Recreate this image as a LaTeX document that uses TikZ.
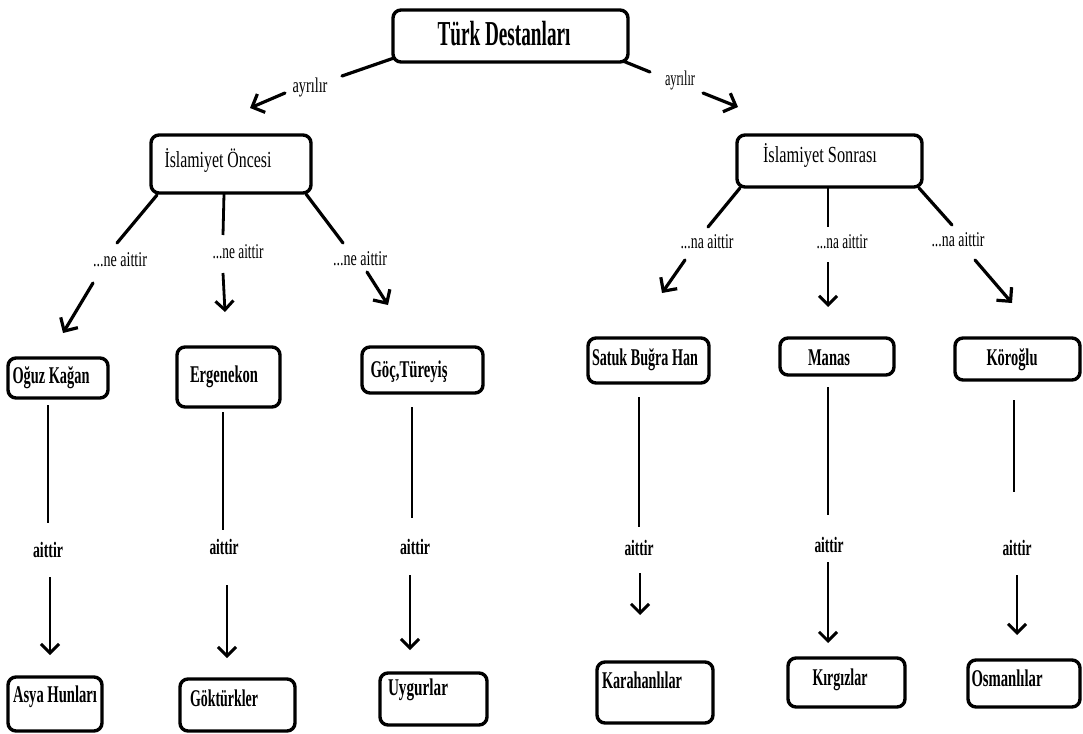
\documentclass[tikz,border=0pt]{standalone}
\usepackage{fontspec}
\setmainfont{Liberation Serif}
\usepackage{graphicx}
\usetikzlibrary{arrows.meta,fit}

% squeeze a text to a given width while keeping its height
\newcommand\fitw[2]{\resizebox{#1pt}{\height}{#2}}

\tikzset{
  boxst/.style={draw=black, line width=3.4pt, rounded corners=8pt, inner sep=0pt},
  ttlst/.style={inner sep=0pt, font=\fontsize{35}{37}\selectfont\bfseries},
  headst/.style={inner sep=0pt, font=\fontsize{23}{25}\selectfont},
  itemst/.style={inner sep=0pt, font=\fontsize{24}{26}\selectfont\bfseries},
  relst/.style={inner sep=0pt, font=\fontsize{21}{23}\selectfont},
  relbst/.style={inner sep=0pt, font=\fontsize{22}{24}\selectfont\bfseries},
  linkst/.style={line width=3.2pt, line cap=round},
  arrst/.style={linkst, -{Straight Barb[length=10pt,width=20pt,line width=3.2pt]}},
  vlinkst/.style={line width=2.8pt},
  varrst/.style={vlinkst, -{Straight Barb[length=9pt,width=18pt,line width=3pt]}}
}

\begin{document}
\begin{tikzpicture}[x=1pt,y=-1pt]
\useasboundingbox[fill=white] (0,0) rectangle (1083,733);

% ---- boxes ----
\node[boxst, fit={(393,10)(628,62)}] (top) {};
\node[ttlst] (tTop) at (504,34) {\fitw{133}{Türk Destanları}};

\node[boxst, fit={(151,135)(311,193)}] (io) {};
\node[headst] (tIo) at (218,160) {\fitw{107}{İslamiyet Öncesi}};

\node[boxst, fit={(737,135)(922,187)}] (is) {};
\node[headst] (tIs) at (820,155) {\fitw{114}{İslamiyet Sonrası}};

\node[boxst, fit={(8,358)(108,398)}] (oguz) {};
\node[itemst] (tOguz) at (51,378) {\fitw{77}{Oğuz Kağan}};
\node[boxst, fit={(177,347)(280,407)}] (erg) {};
\node[itemst] (tErg) at (224,377) {\fitw{68}{Ergenekon}};
\node[boxst, fit={(362,347)(483,393)}] (goc) {};
\node[itemst] (tGoc) at (409,372) {\fitw{77}{Göç,Türeyiş}};

\node[boxst, fit={(588,338)(709,383)}] (satuk) {};
\node[itemst] (tSatuk) at (645,360) {\fitw{106}{Satuk Buğra Han}};
\node[boxst, fit={(780,338)(894,375)}] (manas) {};
\node[itemst] (tManas) at (829,358) {\fitw{42}{Manas}};
\node[boxst, fit={(955,338)(1080,380)}] (koro) {};
\node[itemst] (tKoro) at (1012,360) {\fitw{51}{Köroğlu}};

\node[boxst, fit={(8,677)(102,731)}] (asya) {};
\node[itemst] (tAsya) at (55,697) {\fitw{84}{Asya Hunları}};
\node[boxst, fit={(180,679)(295,731)}] (gok) {};
\node[itemst] (tGok) at (224,698) {\fitw{68}{Göktürkler}};
\node[boxst, fit={(380,673)(487,725)}] (uyg) {};
\node[itemst] (tUyg) at (418,690) {\fitw{60}{Uygurlar}};

\node[boxst, fit={(597,662)(713,723)}] (kara) {};
\node[itemst] (tKara) at (642,680) {\fitw{80}{Karahanlılar}};
\node[boxst, fit={(788,658)(905,707)}] (kirg) {};
\node[itemst] (tKirg) at (840,680) {\fitw{55}{Kırgızlar}};
\node[boxst, fit={(968,660)(1080,707)}] (osm) {};
\node[itemst] (tOsm) at (1007,678) {\fitw{71}{Osmanlılar}};

% ---- first split ----
\node[relst] (ayL) at (310,87) {\fitw{35}{ayrılır}};
\node[relst] (ayR) at (680,80) {\fitw{30}{ayrılır}};
\coordinate (ayL1) at (394,58); \coordinate (ayL2) at (342,76);
\coordinate (ayL3) at (285,93); \coordinate (ayL4) at (250,108);
\coordinate (ayR1) at (623,61); \coordinate (ayR2) at (650,72);
\coordinate (ayR3) at (703,93); \coordinate (ayR4) at (738,107);
\draw[linkst] (ayL1) -- (ayL2);
\draw[arrst] (ayL3) -- (ayL4);
\draw[linkst] (ayR1) -- (ayR2);
\draw[arrst] (ayR3) -- (ayR4);

% ---- İslamiyet Öncesi branches ----
\node[relst] (neA) at (120,260) {\fitw{54}{...ne aittir}};
\node[relst] (neB) at (238,252) {\fitw{51}{...ne aittir}};
\node[relst] (neC) at (360,259) {\fitw{54}{...ne aittir}};
\coordinate (a1) at (157,195); \coordinate (a2) at (117,243);
\coordinate (a3) at (93,283);  \coordinate (a4) at (63,333);
\coordinate (b1) at (224,194); \coordinate (b2) at (223,235);
\coordinate (b3) at (223,273); \coordinate (b4) at (225,312);
\coordinate (c1) at (306,194); \coordinate (c2) at (343,243);
\coordinate (c3) at (367,272); \coordinate (c4) at (388,305);
\draw[linkst] (a1) -- (a2); \draw[arrst] (a3) -- (a4);
\draw[vlinkst] (b1) -- (b2); \draw[varrst] (b3) -- (b4);
\draw[linkst] (c1) -- (c2); \draw[arrst] (c3) -- (c4);

% ---- İslamiyet Sonrası branches ----
\node[relst] (naA) at (707,242) {\fitw{53}{...na aittir}};
\node[relst] (naB) at (842,242) {\fitw{51}{...na aittir}};
\node[relst] (naC) at (958,240) {\fitw{53}{...na aittir}};
\coordinate (d1) at (740,188); \coordinate (d2) at (708,227);
\coordinate (d3) at (685,260); \coordinate (d4) at (662,293);
\coordinate (e1) at (828,188); \coordinate (e2) at (828,227);
\coordinate (e3) at (828,262); \coordinate (e4) at (828,307);
\coordinate (f1) at (919,188); \coordinate (f2) at (952,225);
\coordinate (f3) at (975,260); \coordinate (f4) at (1012,303);
\draw[linkst] (d1) -- (d2); \draw[arrst] (d3) -- (d4);
\draw[vlinkst] (e1) -- (e2); \draw[varrst] (e3) -- (e4);
\draw[linkst] (f1) -- (f2); \draw[arrst] (f3) -- (f4);

% ---- aittir links ----
\node[relbst] (at1) at (48,550) {\fitw{30}{aittir}};
\node[relbst] (at2) at (224,547) {\fitw{29}{aittir}};
\node[relbst] (at3) at (415,547) {\fitw{30}{aittir}};
\node[relbst] (at4) at (639,548) {\fitw{29}{aittir}};
\node[relbst] (at5) at (829,545) {\fitw{29}{aittir}};
\node[relbst] (at6) at (1017,548) {\fitw{29}{aittir}};

\coordinate (g1) at (48,405);   \coordinate (g2) at (48,523);
\coordinate (g3) at (50,577);   \coordinate (g4) at (50,655);
\coordinate (h1) at (223,412);  \coordinate (h2) at (223,530);
\coordinate (h3) at (227,585);  \coordinate (h4) at (227,658);
\coordinate (i1) at (412,407);  \coordinate (i2) at (412,518);
\coordinate (i3) at (410,575);  \coordinate (i4) at (410,650);
\coordinate (j1) at (639,397);  \coordinate (j2) at (639,527);
\coordinate (j3) at (640,573);  \coordinate (j4) at (640,615);
\coordinate (k1) at (828,387);  \coordinate (k2) at (828,515);
\coordinate (k3) at (828,562);  \coordinate (k4) at (828,643);
\coordinate (l1) at (1014,400); \coordinate (l2) at (1014,492);
\coordinate (l3) at (1017,575); \coordinate (l4) at (1017,635);
\foreach \p in {g,h,i,j,k,l}{
  \draw[vlinkst] (\p1) -- (\p2);
  \draw[varrst] (\p3) -- (\p4);
}
\end{tikzpicture}
\end{document}
